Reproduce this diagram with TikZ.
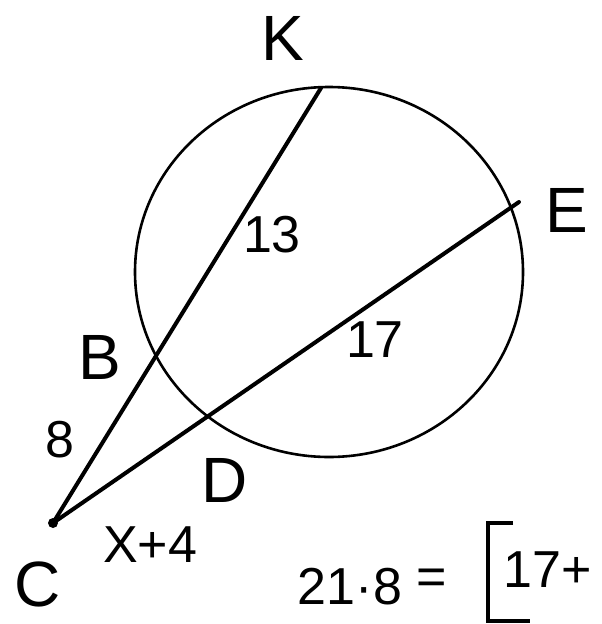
\documentclass[tikz,border=0pt]{standalone}
\usepackage{fontspec}
\setmainfont{Liberation Sans}
\begin{document}
\begin{tikzpicture}[x=1pt,y=-1pt,
  lbl/.style={font=\fontsize{64}{64}\selectfont, inner sep=0pt},
  num/.style={font=\fontsize{52}{52}\selectfont, inner sep=0pt},
  chord/.style={line width=4pt, line cap=round},
  rim/.style={line width=2.6pt}]
\useasboundingbox (0,0) rectangle (602,624);
\coordinate (C) at (53,523);
\coordinate (K) at (321,88);
\coordinate (E) at (519,202);
\coordinate (B) at (152,361);
\coordinate (D) at (199,423);
\coordinate (O) at (329,272);
\draw[rim] (O) ellipse [x radius=194pt, y radius=185pt];
\draw[chord] (C) -- (K);
\draw[chord] (C) -- (E);
\fill (C) circle (5pt);
\node[lbl] (kl) at (283,38) {K};
\node[lbl] (el) at (567,210) {E};
\node[lbl] (bl) at (100,357) {B};
\node[lbl] (dl) at (225,480) {D};
\node[lbl] (cl) at (38,584) {C};
\node[num] (l8) at (60,440) {8};
\node[num] (l13) at (272,235) {13};
\node[num] (l17) at (375,340) {17};
\node[num] (lx) at (150,545) {X+4};
\node[num] (eqa) at (350,587) {21·8};
\node[num] (eqb) at (432,582) {=};
\node[num] (eqc) at (548,570) {17+};
\coordinate (br1) at (513,523);
\coordinate (br2) at (488,523);
\coordinate (br3) at (488,621);
\coordinate (br4) at (530,621);
\draw[line width=3.5pt] (br1) -- (br2) -- (br3) -- (br4);
\end{tikzpicture}
\end{document}
